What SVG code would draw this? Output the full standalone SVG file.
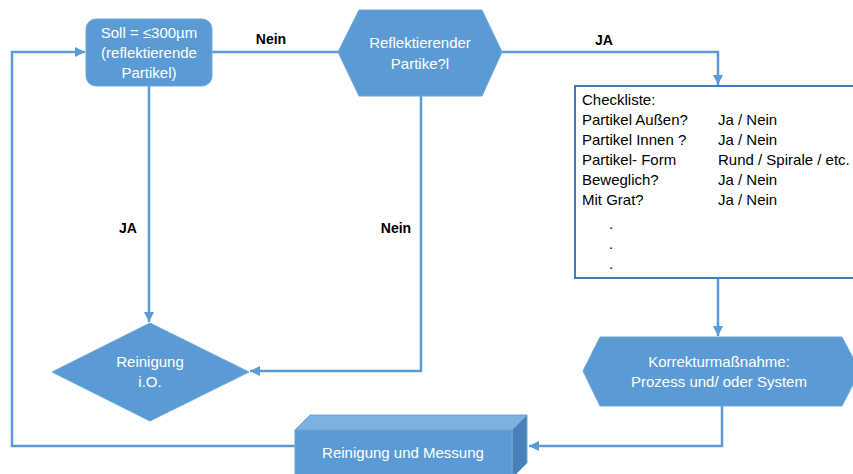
<svg xmlns="http://www.w3.org/2000/svg" width="853" height="474" viewBox="0 0 853 474">
<style>
.shape{fill:#5B9BD5;stroke:#6FA6DA;stroke-width:1}
.wt{font-family:"Liberation Sans",Arial,sans-serif;font-size:15px;fill:#FFFFFF;text-anchor:middle}
.bt{font-family:"Liberation Sans",Arial,sans-serif;font-size:15px;fill:#000000}
.lbl{font-family:"Liberation Sans",Arial,sans-serif;font-size:14px;font-weight:bold;fill:#000000;text-anchor:middle}
.conn{fill:none;stroke:#5B9BD5;stroke-width:2.5}
</style>
<defs>
<marker id="arr" viewBox="0 0 10 10" refX="10" refY="5" markerWidth="4" markerHeight="4" orient="auto" markerUnits="strokeWidth">
<path d="M0,0 L10,5 L0,10 z" fill="#5B9BD5"/>
</marker>
</defs>
<rect width="853" height="474" fill="#FFFFFF"/>

<g id="connectors">
<path class="conn" d="M295,446 H12 V52 H85" marker-end="url(#arr)"/>
<path class="conn" d="M212,52 H338"/>
<path class="conn" d="M502,52 H718 V85" marker-end="url(#arr)"/>
<path class="conn" d="M149,86 V322" marker-end="url(#arr)"/>
<path class="conn" d="M421,96 V371 H250" marker-end="url(#arr)"/>
<path class="conn" d="M718,278 V336" marker-end="url(#arr)"/>
<path class="conn" d="M722,406 V446 H529" marker-end="url(#arr)"/>
<text class="lbl" x="271" y="44">Nein</text>
<text class="lbl" x="604" y="45">JA</text>
<text class="lbl" x="128" y="233">JA</text>
<text class="lbl" x="396" y="233">Nein</text>
</g>

<g id="soll">
<rect class="shape" x="86" y="19" width="126" height="67" rx="10" ry="10"/>
<text class="wt" x="149" y="38">Soll = ≤300µm</text>
<text class="wt" x="149" y="58">(reflektierende</text>
<text class="wt" x="149" y="78">Partikel)</text>
</g>

<g id="reflektierender">
<polygon class="shape" points="338,52 359,10 482,10 502,52 482,96 359,96"/>
<text class="wt" x="420" y="48">Reflektierender</text>
<text class="wt" x="420" y="69">Partike?l</text>
</g>

<g id="checkliste">
<rect x="575" y="86" width="290" height="192" fill="#FFFFFF" stroke="#3D7DBF" stroke-width="2"/>
<text class="bt" x="582" y="105">Checkliste:</text>
<text class="bt" x="582" y="125">Partikel Außen?</text>
<text class="bt" x="718" y="125">Ja / Nein</text>
<text class="bt" x="582" y="145">Partikel Innen ?</text>
<text class="bt" x="718" y="145">Ja / Nein</text>
<text class="bt" x="582" y="165">Partikel- Form</text>
<text class="bt" x="718" y="165">Rund / Spirale / etc.</text>
<text class="bt" x="582" y="185">Beweglich?</text>
<text class="bt" x="718" y="185">Ja / Nein</text>
<text class="bt" x="582" y="205">Mit Grat?</text>
<text class="bt" x="718" y="205">Ja / Nein</text>
<text class="bt" x="609" y="229">.</text>
<text class="bt" x="609" y="249">.</text>
<text class="bt" x="609" y="269">.</text>
</g>

<g id="reinigung-io">
<polygon class="shape" points="150,323 249,372 150,421 52,372"/>
<text class="wt" x="150" y="367">Reinigung</text>
<text class="wt" x="150" y="387">i.O.</text>
</g>

<g id="korrektur">
<polygon class="shape" points="583,371 600,337 842,337 860,371 842,406 600,406"/>
<text class="wt" x="719" y="367">Korrekturmaßnahme:</text>
<text class="wt" x="719" y="387">Prozess und/ oder System</text>
</g>

<g id="reinigung-messung">
<polygon points="295,430 310,415 527,415 512,430" fill="#7EB0E0" stroke="#6FA6DA" stroke-width="1"/>
<polygon points="512,430 527,415 527,463 512,478" fill="#4A80B8" stroke="#6FA6DA" stroke-width="1"/>
<rect class="shape" x="295" y="430" width="217" height="50"/>
<text class="wt" x="403" y="458">Reinigung und Messung</text>
</g>
</svg>
